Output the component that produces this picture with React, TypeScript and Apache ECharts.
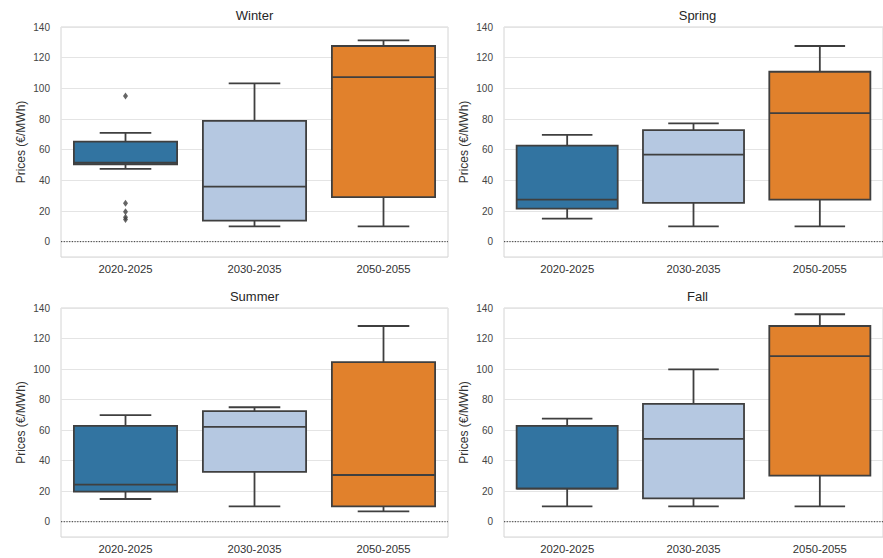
import React, { useEffect, useRef } from "react";
import * as echarts from "echarts";

const categories = ["2020-2025", "2030-2035", "2050-2055"];
const seasons = ["Winter", "Spring", "Summer", "Fall"];
const yTicks = [0, 20, 40, 60, 80, 100, 120, 140];
const yMin = -10;
const yMax = 140;
const zeroLine = 0;

// [lowWhisker, Q1, median, Q3, highWhisker] per category
const winter = [
  [47.5, 50.5, 51.5, 65.3, 71],
  [10, 13.7, 35.9, 78.8, 103.2],
  [10, 29, 107.3, 127.6, 131.3],
];
const spring = [
  [15, 21.6, 27.4, 62.7, 69.7],
  [10, 25.3, 56.8, 72.7, 77.1],
  [10, 27.4, 83.8, 110.8, 127.6],
];
const summer = [
  [14.9, 19.7, 24.3, 62.8, 69.8],
  [10, 32.6, 62.1, 72.4, 75],
  [6.8, 10, 30.6, 104.6, 128.2],
];
const fall = [
  [10, 21.7, 21.7, 62.8, 67.6],
  [10, 15.3, 54.3, 77.2, 99.8],
  [10, 30.2, 108.5, 128.2, 135.9],
];
// outliers: [categoryIndex, value]
const winterOutliers = [
  [0, 95],
  [0, 25],
  [0, 19.5],
  [0, 16],
  [0, 14.5],
];
const springOutliers: number[][] = [];
const summerOutliers: number[][] = [];
const fallOutliers: number[][] = [];

const seasonBoxes = [winter, spring, summer, fall];
const seasonOutliers = [winterOutliers, springOutliers, summerOutliers, fallOutliers];

const palette = ["#3274a1", "#b5c8e1", "#e1812c"];
const lineColor = "#3f3f3f";
const font = "'Liberation Sans', Arial, sans-serif";

const grids = [
  { left: 61, top: 27, width: 387, height: 230 },
  { left: 504, top: 27, width: 390, height: 230 },
  { left: 61, top: 308, width: 387, height: 229 },
  { left: 504, top: 308, width: 390, height: 229 },
];

export default function App() {
  const ref = useRef<HTMLDivElement>(null);
  useEffect(() => {
    if (!ref.current) return;
    const chart = echarts.init(ref.current, undefined, { renderer: "svg" });

    const renderItem = (params: any, api: any) => {
      const ci = api.value(0);
      const lo = api.coord([ci, api.value(1)]);
      const q1 = api.coord([ci, api.value(2)]);
      const med = api.coord([ci, api.value(3)]);
      const q3 = api.coord([ci, api.value(4)]);
      const hi = api.coord([ci, api.value(5)]);
      const cx = lo[0];
      const bw = api.size([1, 0])[0] * 0.8;
      const color = palette[ci % palette.length];
      const ls = { stroke: lineColor, lineWidth: 1.8 };
      const children: any[] = [];
      if (params.dataIndex === 0) {
        const cs = params.coordSys;
        const zy = api.coord([0, zeroLine])[1];
        children.push({
          type: "line",
          shape: { x1: cs.x, y1: zy, x2: cs.x + cs.width, y2: zy },
          style: { stroke: "#333", lineWidth: 1, lineDash: [1.2, 1.5] },
        });
      }
      children.push(
        { type: "line", shape: { x1: cx, y1: q3[1], x2: cx, y2: hi[1] }, style: ls },
        { type: "line", shape: { x1: cx, y1: q1[1], x2: cx, y2: lo[1] }, style: ls },
        { type: "line", shape: { x1: cx - bw / 4, y1: hi[1], x2: cx + bw / 4, y2: hi[1] }, style: ls },
        { type: "line", shape: { x1: cx - bw / 4, y1: lo[1], x2: cx + bw / 4, y2: lo[1] }, style: ls },
        {
          type: "rect",
          shape: { x: cx - bw / 2, y: q3[1], width: bw, height: q1[1] - q3[1] },
          style: { fill: color, stroke: lineColor, lineWidth: 1.8 },
        },
        { type: "line", shape: { x1: cx - bw / 2, y1: med[1], x2: cx + bw / 2, y2: med[1] }, style: ls }
      );
      return { type: "group", children };
    };

    const option: any = {
      animation: false,
      backgroundColor: "#ffffff",
      title: seasons.map((s, i) => ({
        text: s,
        left: grids[i].left + Math.min(grids[i].width, 387) / 2,
        top: grids[i].top - 18,
        textAlign: "center",
        padding: 0,
        textStyle: { fontSize: 13, fontWeight: "normal", color: "#262626", fontFamily: font },
      })),
      grid: grids.map((g) => ({
        ...g,
        show: true,
        borderColor: "#d4d4d4",
        borderWidth: 1,
        backgroundColor: "transparent",
        containLabel: false,
      })),
      xAxis: grids.map((_, i) => ({
        type: "category",
        gridIndex: i,
        data: categories,
        axisLine: { show: false },
        axisTick: { show: false },
        splitLine: { show: false },
        axisLabel: { color: "#333", fontSize: 11.3, margin: 6, fontFamily: font },
      })),
      yAxis: grids.map((_, i) => ({
        type: "value",
        gridIndex: i,
        min: yMin,
        max: yMax,
        splitNumber: 7,
        axisLine: { show: false },
        axisTick: { show: false },
        splitLine: { show: true, lineStyle: { color: "#e4e4e4", width: 1 } },
        axisLabel: {
          color: "#444",
          fontSize: 10,
          margin: 11,
          fontFamily: font,
          formatter: (v: number) => (yTicks.includes(v) ? String(v) : ""),
        },
        name: "Prices (€/MWh)",
        nameLocation: "middle",
        nameGap: 34,
        nameTextStyle: { color: "#333", fontSize: 12, fontFamily: font },
      })),
      series: [
        ...seasonBoxes.map((boxes, i) => ({
          type: "custom",
          xAxisIndex: i,
          yAxisIndex: i,
          renderItem,
          encode: { x: 0, y: [1, 2, 3, 4, 5] },
          data: boxes.map((b, ci) => [ci, ...b]),
          silent: true,
          clip: false,
        })),
        ...seasonOutliers.map((pts, i) => ({
          type: "scatter",
          xAxisIndex: i,
          yAxisIndex: i,
          data: pts,
          symbol: "diamond",
          symbolSize: [5, 7],
          itemStyle: { color: lineColor },
          silent: true,
        })),
      ],
    };
    chart.setOption(option);
    return () => chart.dispose();
  }, []);
  return (
    <div
      ref={ref}
      style={{ position: "fixed", left: 0, top: 0, width: 883, height: 558, background: "#fff" }}
    />
  );
}
